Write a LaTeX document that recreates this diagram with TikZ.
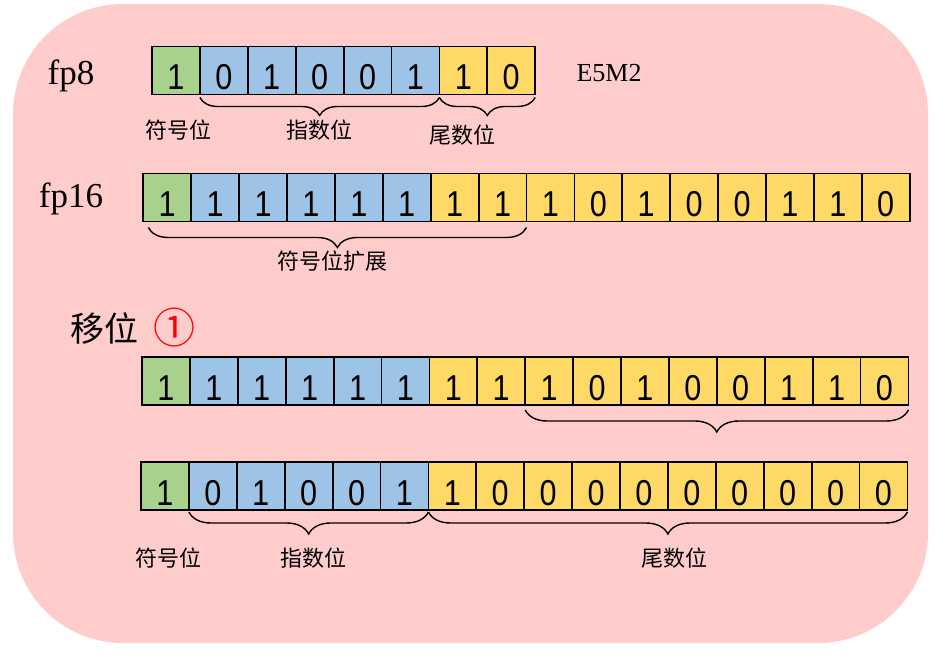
\documentclass[tikz,border=0pt]{standalone}
\usepackage{fontspec}
\setmainfont{Liberation Serif}
\newfontfamily\cjk{Noto Sans CJK SC}
\newfontfamily\digitfont{Liberation Sans}[FakeStretch=0.85]
\usetikzlibrary{positioning, decorations.pathreplacing}
\definecolor{bgpink}{HTML}{FFCCCC}
\definecolor{signgreen}{HTML}{A9D18E}
\definecolor{expoblue}{HTML}{9DC3E6}
\definecolor{mantyellow}{HTML}{FFD966}
\tikzstyle{cell} = [rectangle, draw=black, line width=1.8pt, minimum width=47.9pt, minimum height=48pt, inner sep=0pt, outer sep=0pt, text height=38pt, text depth=0pt, font=\digitfont\fontsize{36}{36}\selectfont]
\tikzstyle{bit} = [cell, fill=#1]
\tikzstyle{underbrace} = [decorate, decoration={brace, mirror, amplitude=18pt}, line width=1.4pt]
\tikzstyle{fieldlabel} = [font=\cjk\fontsize{22}{22}\selectfont]
\tikzstyle{rowname} = [font=\fontsize{35}{35}\selectfont]

\begin{document}
\begin{tikzpicture}[x=1pt, y=-1pt]

\useasboundingbox (0,0) rectangle (943,655);
\fill[bgpink, rounded corners=110pt] (13,4) rectangle (928,643);

% Row names
\node (fp8) [rowname] at (71,76) {fp8};
\node (fp16) [rowname] at (71,199) {fp16};
\node (e5m2) [font=\fontsize{26}{26}\selectfont] at (609,73) {E5M2};
\node (shift) [font=\cjk\fontsize{34}{34}\selectfont] at (104,329) {移位};
\node (step1) [font=\cjk\fontsize{42}{42}\selectfont, text=red] at (174,328) {①};

% fp8 bits
\foreach \b/\c [count=\i] in {1/signgreen,0/expoblue,1/expoblue,0/expoblue,0/expoblue,1/expoblue,1/mantyellow,0/mantyellow}
  \node (a\i) [bit=\c] at ({152+47.9*(\i-0.5)},70.5) {\b};

% fp16 bits
\foreach \b/\c [count=\i] in {1/signgreen,1/expoblue,1/expoblue,1/expoblue,1/expoblue,1/expoblue,1/mantyellow,1/mantyellow,1/mantyellow,0/mantyellow,1/mantyellow,0/mantyellow,0/mantyellow,1/mantyellow,1/mantyellow,0/mantyellow}
  \node (b\i) [bit=\c] at ({143.3+47.9*(\i-0.5)},197.5) {\b};

% shifted bits
\foreach \b/\c [count=\i] in {1/signgreen,1/expoblue,1/expoblue,1/expoblue,1/expoblue,1/expoblue,1/mantyellow,1/mantyellow,1/mantyellow,0/mantyellow,1/mantyellow,0/mantyellow,0/mantyellow,1/mantyellow,1/mantyellow,0/mantyellow}
  \node (c\i) [bit=\c] at ({142+47.9*(\i-0.5)},381) {\b};

% result bits
\foreach \b/\c [count=\i] in {1/signgreen,0/expoblue,1/expoblue,0/expoblue,0/expoblue,1/expoblue,1/mantyellow,0/mantyellow,0/mantyellow,0/mantyellow,0/mantyellow,0/mantyellow,0/mantyellow,0/mantyellow,0/mantyellow,0/mantyellow}
  \node (d\i) [bit=\c] at ({141+47.9*(\i-0.5)},486) {\b};

% Braces
\draw [underbrace] ([yshift=-3pt]a2.south west) -- ([yshift=-3pt]a6.south east);
\draw [underbrace] ([yshift=-3pt]a7.south west) -- ([yshift=-3pt]a8.south east);
\draw [underbrace, decoration={amplitude=20pt}] ([xshift=5pt, yshift=-6pt]b1.south west) -- ([yshift=-6pt]b8.south east);
\draw [underbrace, decoration={amplitude=22pt}] ([yshift=-5pt]c9.south west) -- ([yshift=-5pt]c16.south east);
\draw [underbrace, decoration={amplitude=22pt}] ([yshift=-2pt]d2.south west) -- ([yshift=-2pt]d6.south east);
\draw [underbrace, decoration={amplitude=22pt}] ([yshift=-2pt]d7.south west) -- ([yshift=-2pt]d16.south east);

% Labels
\node (sgn8) [fieldlabel] at (178,130) {符号位};
\node (exp8) [fieldlabel] at (319,130) {指数位};
\node (man8) [fieldlabel] at (462,135) {尾数位};
\node (ext16) [fieldlabel] at (332,261) {符号位扩展};
\node (sgnr) [fieldlabel] at (168,558) {符号位};
\node (expr) [fieldlabel] at (313,558) {指数位};
\node (manr) [fieldlabel] at (674,558) {尾数位};

\end{tikzpicture}
\end{document}
